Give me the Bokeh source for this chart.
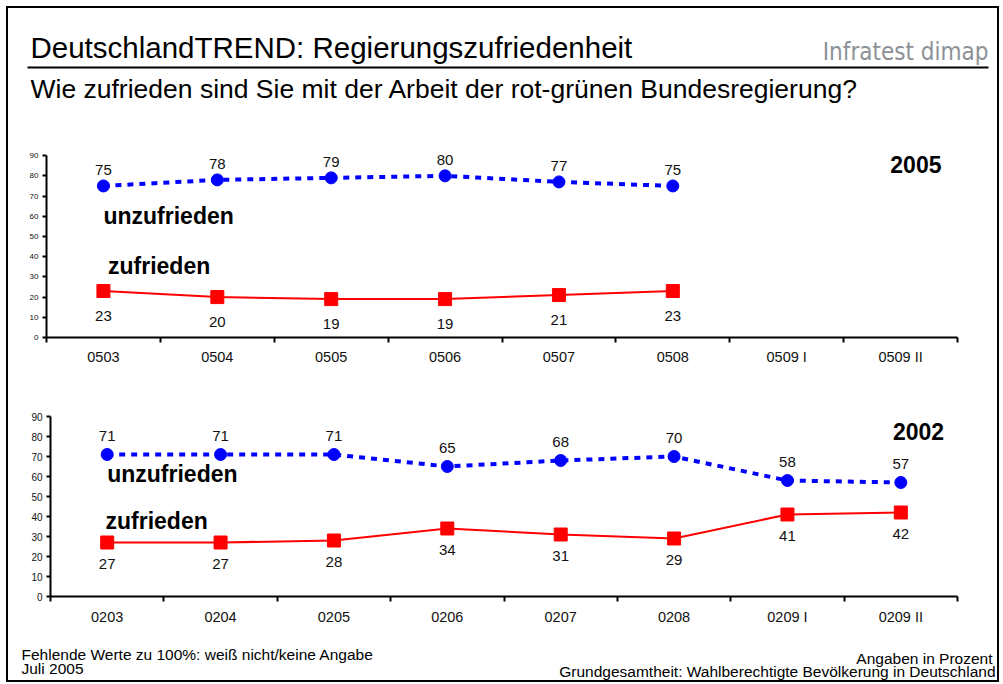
from bokeh.plotting import figure
from bokeh.models import Range1d, FixedTicker, LabelSet, Label, ColumnDataSource
from bokeh.layouts import column
from bokeh.embed import file_html
from bokeh.resources import INLINE
from bokeh.core.properties import value

# ---------------- data ----------------
months_2005 = ["0503", "0504", "0505", "0506", "0507", "0508", "0509 I", "0509 II"]
unzufrieden_2005 = [75, 78, 79, 80, 77, 75]
zufrieden_2005 = [23, 20, 19, 19, 21, 23]

months_2002 = ["0203", "0204", "0205", "0206", "0207", "0208", "0209 I", "0209 II"]
unzufrieden_2002 = [71, 71, 71, 65, 68, 70, 58, 57]
zufrieden_2002 = [27, 27, 28, 34, 31, 29, 41, 42]

y_ticks = [0, 10, 20, 30, 40, 50, 60, 70, 80, 90]

title_text = "DeutschlandTREND: Regierungszufriedenheit"
subtitle_text = "Wie zufrieden sind Sie mit der Arbeit der rot-grünen Bundesregierung?"
logo_text = "Infratest dimap"
footer_left = ["Fehlende Werte zu 100%: weiß nicht/keine Angabe", "Juli 2005"]
footer_right = ["Angaben in Prozent", "Grundgesamtheit: Wahlberechtigte Bevölkerung in Deutschland"]

FONT = "Liberation Sans"
BLUE = "#0000FF"
RED = "#FF0000"
W = 989


def blank(h):
    p = figure(width=W, height=h, x_range=Range1d(0, W), y_range=Range1d(h, 0),
               x_axis_type=None, y_axis_type=None,
               output_backend="svg", toolbar_location=None, min_border=0, frame_align=False)
    p.grid.visible = False
    p.outline_line_color = None
    return p


def txt(p, x, y, s, size, align="left", font=FONT, color="black"):
    p.add_layout(Label(x=x, y=y, text=s, text_font=font, text_font_size=size,
                       text_color=color, text_align=align, text_baseline="middle"))


# ---------------- header ----------------
header = blank(132)
txt(header, 22, 39, title_text, "29.5px")
txt(header, 980, 43.5, logo_text, "24px", align="right",
    font="DejaVu Sans Condensed, Liberation Sans", color="#8c9197")
header.segment(x0=[19], y0=[59], x1=[980], y1=[59], line_color="black", line_width=2)
txt(header, 22, 80, subtitle_text, "26.5px")


# ---------------- charts ----------------
def chart(cats, unz, zuf, year, h, top, bottom, left, ytick_size, cat_standoff,
          off_up, off_down, unz_pos, zuf_pos, year_pos):
    n = len(cats)
    p = figure(width=W, height=h, x_range=Range1d(-0.5, n - 0.5), y_range=Range1d(0, 96),
               output_backend="svg", toolbar_location=None, frame_align=False,
               min_border_top=top, min_border_bottom=bottom, min_border_left=left,
               min_border_right=40)
    p.grid.visible = False
    p.outline_line_color = None

    xa = p.xaxis[0]
    xa.ticker = FixedTicker(ticks=list(range(n)), minor_ticks=[i - 0.5 for i in range(n + 1)])
    xa.major_label_overrides = {i: c for i, c in enumerate(cats)}
    xa.major_tick_line_color = None
    xa.major_tick_out = 0
    xa.major_tick_in = 0
    xa.minor_tick_line_color = "black"
    xa.minor_tick_line_width = 2
    xa.minor_tick_out = 5
    xa.minor_tick_in = 0
    xa.axis_line_width = 2
    xa.axis_line_color = "black"
    xa.major_label_text_font = FONT
    xa.major_label_text_font_size = "14.5px"
    xa.major_label_text_color = "#111111"
    xa.major_label_standoff = cat_standoff

    ya = p.yaxis[0]
    ya.ticker = FixedTicker(ticks=y_ticks)
    ya.bounds = (0, 90)
    ya.major_tick_out = 4
    ya.major_tick_in = 0
    ya.major_tick_line_width = 2
    ya.minor_tick_line_color = None
    ya.axis_line_width = 2
    ya.axis_line_color = "black"
    ya.major_label_text_font = FONT
    ya.major_label_text_font_size = ytick_size
    ya.major_label_text_color = "#111111"
    ya.major_label_standoff = 4

    su = ColumnDataSource(dict(x=list(range(len(unz))), y=unz, t=[str(v) for v in unz]))
    sz = ColumnDataSource(dict(x=list(range(len(zuf))), y=zuf, t=[str(v) for v in zuf]))

    p.line("x", "y", source=su, line_color=BLUE, line_width=4, line_dash="6 6")
    p.scatter("x", "y", source=su, marker="circle", size=12, fill_color=BLUE, line_color=BLUE)
    p.line("x", "y", source=sz, line_color=RED, line_width=2)
    p.scatter("x", "y", source=sz, marker="square", size=13, fill_color=RED, line_color=RED)

    p.add_layout(LabelSet(x="x", y="y", text="t", source=su, text_font=value(FONT),
                          text_font_size="15px", text_align="center", text_baseline="middle",
                          y_offset=off_up, text_color="#111111"))
    p.add_layout(LabelSet(x="x", y="y", text="t", source=sz, text_font=value(FONT),
                          text_font_size="15px", text_align="center", text_baseline="middle",
                          y_offset=off_down, text_color="#111111"))

    for pos, s, size in ((unz_pos, "unzufrieden", "23px"), (zuf_pos, "zufrieden", "23px"),
                         (year_pos, year, "23px")):
        p.add_layout(Label(x=pos[0], y=pos[1], text=s, text_font=FONT, text_font_size=size,
                           text_font_style="bold", text_baseline="middle", text_color="black"))
    return p


chart1 = chart(months_2005, unzufrieden_2005, zufrieden_2005, "2005", 232, 3, 35, 38, "8px", 6,
               15.5, -25, (0.0, 60.3), (0.04, 35.6), (6.91, 85.6))
chart2 = chart(months_2002, unzufrieden_2002, zufrieden_2002, "2002", 258, 32, 34, 42, "10px", 7,
               19, -21.5, (0.0, 61.5), (-0.015, 38), (6.93, 82.5))

# ---------------- footer ----------------
footer = blank(50)
txt(footer, 13, 23.6, footer_left[0], "15.5px")
txt(footer, 13, 37.6, footer_left[1], "15.5px")
txt(footer, 984, 27.6, footer_right[0], "15.5px", align="right")
txt(footer, 987, 40.6, footer_right[1], "15.5px", align="right")

layout = column(header, chart1, chart2, footer, spacing=0,
                styles={"margin-left": "6px", "margin-top": "6px",
                        "border": "2px solid black"})

open("out.html", "w").write(file_html(layout, INLINE))
